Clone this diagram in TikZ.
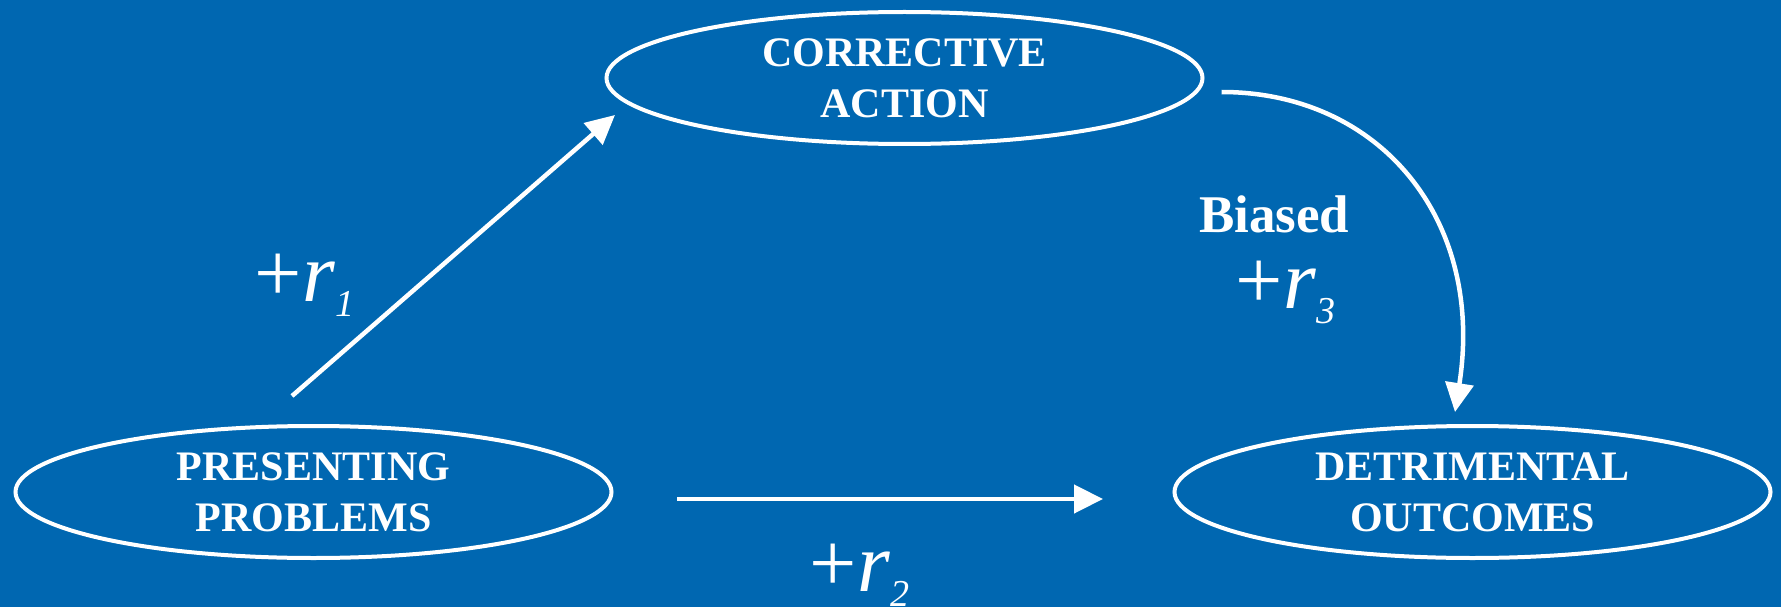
\documentclass[tikz,border=0pt]{standalone}
\usepackage{fontspec}
\setmainfont{Liberation Serif}
\usetikzlibrary{shapes.geometric,arrows.meta,calc}
\definecolor{bgblue}{RGB}{0,103,177}
\tikzset{
  oval/.style={ellipse, draw=white, line width=4pt, minimum width=596pt, minimum height=132pt,
    inner sep=0pt, align=center, text=white, font=\fontsize{42}{51}\selectfont\bfseries},
  arr/.style={draw=white, line width=4.5pt, -{Triangle[length=29pt,width=28pt]}},
  rlab/.style={anchor=base west, text=white, inner sep=0pt},
  blab/.style={anchor=base west, text=white, inner sep=0pt, font=\fontsize{53}{53}\selectfont\bfseries}
}
\newcommand{\rsub}[1]{{\fontsize{84}{84}\selectfont +\textit{r}}\raisebox{-15pt}{\fontsize{38}{38}\selectfont\textit{#1}}}
\begin{document}
\begin{tikzpicture}[x=1pt,y=-1pt]
\fill[bgblue] (0,0) rectangle (1781,607);
\useasboundingbox (0,0) rectangle (1781,607);
\node[oval] (co) at (904.5,78) {CORRECTIVE\\ACTION};
\node[oval] (pp) at (313.5,492) {PRESENTING\\PROBLEMS};
\node[oval] (do) at (1472.5,492) {DETRIMENTAL\\OUTCOMES};
\draw[arr] ($(pp.north)+(-21.5,-28)$) -- ($(co.west)+(10.5,37)$);
\draw[arr] ($(pp.east)+(63.5,7)$) -- ($(do.west)+(-69.5,7)$);
\draw[arr] ($(co.east)+(17,14)$) .. controls (1380,92) and (1485,220) .. ($(do.north)+(-17.5,-12)$);
\node[rlab] (r1) at (254.5,301) {\rsub{1}};
\node[rlab] (r2) at (809.5,591) {\rsub{2}};
\node[blab] (bi) at (1199,233) {Biased};
\node[rlab] (r3) at (1235.5,308) {\rsub{3}};
\end{tikzpicture}
\end{document}
